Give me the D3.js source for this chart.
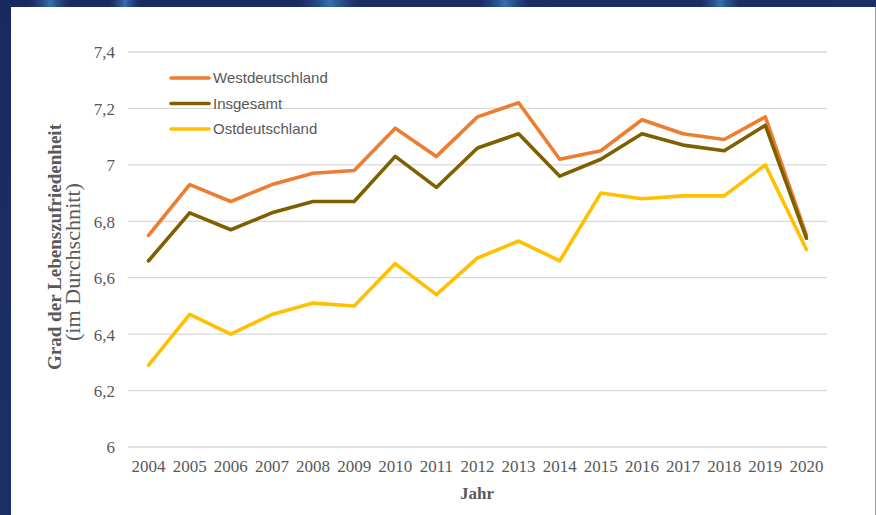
<!DOCTYPE html>
<html>
<head>
<meta charset="utf-8">
<script src="https://cdn.jsdelivr.net/npm/d3@7"></script>
<style>
  html, body { margin: 0; padding: 0; background: #1d2b5c; }
  svg { display: block; }
</style>
</head>
<body>
<svg id="chart" width="876" height="515"></svg>
<script>
// Life satisfaction (average), 2004–2020
const years = ["2004","2005","2006","2007","2008","2009","2010","2011","2012","2013","2014","2015","2016","2017","2018","2019","2020"];
const west  = [6.75, 6.93, 6.87, 6.93, 6.97, 6.98, 7.13, 7.03, 7.17, 7.22, 7.02, 7.05, 7.16, 7.11, 7.09, 7.17, 6.75];
const total = [6.66, 6.83, 6.77, 6.83, 6.87, 6.87, 7.03, 6.92, 7.06, 7.11, 6.96, 7.02, 7.11, 7.07, 7.05, 7.14, 6.74];
const east  = [6.29, 6.47, 6.40, 6.47, 6.51, 6.50, 6.65, 6.54, 6.67, 6.73, 6.66, 6.90, 6.88, 6.89, 6.89, 7.00, 6.70];
const yTicks = [6, 6.2, 6.4, 6.6, 6.8, 7, 7.2, 7.4];

const series = [
  { name: "Westdeutschland", values: west,  color: "#ED7D31" },
  { name: "Insgesamt",       values: total, color: "#7F6000" },
  { name: "Ostdeutschland",  values: east,  color: "#FFC000" }
];

const svg = d3.select("#chart");

// backdrop
const defs = svg.append("defs");
const bg = defs.append("linearGradient").attr("id", "bg").attr("x1", 0).attr("y1", 0).attr("x2", 1).attr("y2", 1);
bg.append("stop").attr("offset", "0%").attr("stop-color", "#1a2a60");
bg.append("stop").attr("offset", "50%").attr("stop-color", "#1b2f66");
bg.append("stop").attr("offset", "100%").attr("stop-color", "#0c3a6a");
svg.append("rect").attr("width", 876).attr("height", 515).attr("fill", "url(#bg)");
const streak = defs.append("linearGradient").attr("id", "streak").attr("x1", 0).attr("x2", 1);
streak.append("stop").attr("offset", "0%").attr("stop-color", "#2c5a9c").attr("stop-opacity", 0.0);
streak.append("stop").attr("offset", "50%").attr("stop-color", "#3f7fc0").attr("stop-opacity", 0.8);
streak.append("stop").attr("offset", "100%").attr("stop-color", "#2c5a9c").attr("stop-opacity", 0.0);
[[30, 40], [110, 30], [300, 60], [480, 50], [700, 40]].forEach(([x, w]) => {
  svg.append("rect").attr("x", x).attr("y", 0).attr("width", w).attr("height", 7).attr("fill", "url(#streak)");
});

// white panel
svg.append("rect").attr("x", 11).attr("y", 7).attr("width", 864).attr("height", 508).attr("fill", "#ffffff");
svg.append("line").attr("x1", 875.5).attr("x2", 875.5).attr("y1", 7).attr("y2", 515)
  .attr("stroke", "#9a9a9a").attr("stroke-width", 1);

// scales
const x = d3.scaleBand().domain(years).range([128, 827]).padding(0);
const xc = d => x(d) + x.bandwidth() / 2;
const y = d3.scaleLinear().domain([6, 7.4]).range([447, 52]);

// gridlines
svg.append("g").selectAll("line").data(yTicks).join("line")
  .attr("x1", 128).attr("x2", 827)
  .attr("y1", d => y(d)).attr("y2", d => y(d))
  .attr("stroke", "#d9d9d9").attr("stroke-width", 1.3);

// y axis labels
const yAxis = d3.axisLeft(y).tickValues(yTicks)
  .tickFormat(d => String(d).replace(".", ",")).tickSize(0).tickPadding(0);
const gy = svg.append("g").attr("transform", "translate(115,0)").call(yAxis);
gy.select(".domain").remove();
gy.selectAll("text")
  .attr("font-family", "'Liberation Serif', 'Times New Roman', serif")
  .attr("font-size", 17).attr("fill", "#595959").attr("dy", "0.35em");

// x axis labels
const xAxis = d3.axisBottom(x).tickSize(0).tickPadding(0);
const gx = svg.append("g").attr("transform", "translate(0,460)").call(xAxis);
gx.select(".domain").remove();
gx.selectAll("text")
  .attr("font-family", "'Liberation Serif', 'Times New Roman', serif")
  .attr("font-size", 17).attr("fill", "#595959").attr("dy", "0.71em");

// axis titles
svg.append("text").attr("x", 477).attr("y", 499)
  .attr("text-anchor", "middle")
  .attr("font-family", "'Liberation Serif', 'Times New Roman', serif")
  .attr("font-weight", "bold").attr("font-size", 17).attr("fill", "#595959")
  .text("Jahr");

svg.append("text")
  .attr("transform", "translate(61,247) rotate(-90)")
  .attr("text-anchor", "middle")
  .attr("font-family", "'Liberation Serif', 'Times New Roman', serif")
  .attr("font-weight", "bold").attr("font-size", 19).attr("fill", "#595959")
  .attr("textLength", 246).attr("lengthAdjust", "spacingAndGlyphs")
  .text("Grad der Lebenszufriedenheit");

svg.append("text")
  .attr("transform", "translate(80,262) rotate(-90)")
  .attr("text-anchor", "middle")
  .attr("font-family", "'Liberation Serif', 'Times New Roman', serif")
  .attr("font-size", 20).attr("fill", "#595959")
  .attr("textLength", 158).attr("lengthAdjust", "spacingAndGlyphs")
  .text("(im Durchschnitt)");

// lines
const line = d3.line().x((d, i) => xc(years[i])).y(d => y(d));
svg.append("g").selectAll("path").data(series).join("path")
  .attr("d", d => line(d.values))
  .attr("fill", "none")
  .attr("stroke", d => d.color)
  .attr("stroke-width", 3.6)
  .attr("stroke-linejoin", "round")
  .attr("stroke-linecap", "round");

// legend
const lg = svg.append("g").selectAll("g").data(series).join("g")
  .attr("transform", (d, i) => `translate(171,${78 + i * 25.5})`);
lg.append("line").attr("x1", 0).attr("x2", 38).attr("y1", 0).attr("y2", 0)
  .attr("stroke", d => d.color).attr("stroke-width", 3.6).attr("stroke-linecap", "round");
lg.append("text").attr("x", 42).attr("y", 0).attr("dy", "0.35em")
  .attr("font-family", "'Liberation Sans', Arial, sans-serif")
  .attr("font-size", 15).attr("fill", "#595959")
  .text(d => d.name);
</script>
</body>
</html>
